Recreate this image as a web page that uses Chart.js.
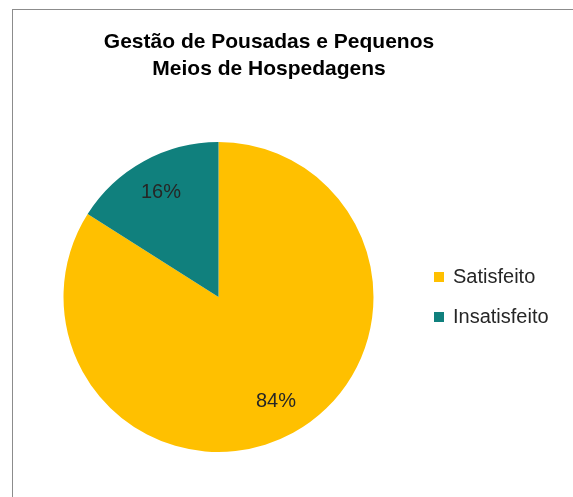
<!DOCTYPE html>
<html lang="pt">
<head>
<meta charset="utf-8">
<title>Gestão de Pousadas e Pequenos Meios de Hospedagens</title>
<script src="https://cdn.jsdelivr.net/npm/chart.js@4"></script>
<style>
  html, body { margin: 0; padding: 0; background: #fff; overflow: hidden; }
  #frame {
    position: absolute; left: 12px; top: 9px; width: 600px; height: 520px;
    border-left: 1px solid #8c8c8c; border-top: 1px solid #8c8c8c;
  }
  #chart-wrap { position: absolute; left: 0; top: 0; width: 573px; height: 497px; }
</style>
</head>
<body>
<div id="frame"></div>
<div id="chart-wrap"><canvas id="pie-chart"></canvas></div>
<script>
const TITLE_LINES = ['Gestão de Pousadas e Pequenos', 'Meios de Hospedagens'];
const CATEGORIES = ['Satisfeito', 'Insatisfeito'];
const VALUES = [84, 16];
const COLORS = ['#ffc000', '#10807d'];

const FONT = '"Liberation Sans", Arial, sans-serif';

// writes the percentage inside each slice
const sliceLabels = {
  id: 'sliceLabels',
  afterDatasetsDraw(chart) {
    const { ctx } = chart;
    const arcs = chart.getDatasetMeta(0).data;
    const total = VALUES.reduce((sum, v) => sum + v, 0);
    ctx.save();
    ctx.font = '20px ' + FONT;
    ctx.fillStyle = '#262626';
    ctx.textAlign = 'center';
    ctx.textBaseline = 'middle';
    arcs.forEach((arc, i) => {
      const { x, y, startAngle, endAngle, outerRadius } = arc.getProps(
        ['x', 'y', 'startAngle', 'endAngle', 'outerRadius'], true);
      const mid = (startAngle + endAngle) / 2;
      const dist = outerRadius * 0.77;
      const pct = Math.round(VALUES[i] / total * 100) + '%';
      ctx.fillText(pct, x + Math.cos(mid) * dist, y + Math.sin(mid) * dist);
    });
    ctx.restore();
  },
};

// the legend box is kept narrow so the title stays centred like the original;
// let its labels run past the box instead of being clipped
const unclippedLegend = {
  id: 'unclippedLegend',
  afterInit(chart) {
    if (chart.legend) {
      chart.legend.draw = function () {
        if (this.options.display) {
          this._draw();
        }
      };
    }
  },
};

new Chart(document.getElementById('pie-chart'), {
  type: 'pie',
  data: {
    labels: CATEGORIES,
    datasets: [{
      data: VALUES,
      backgroundColor: COLORS,
      borderWidth: 0,
      hoverOffset: 0,
    }],
  },
  options: {
    responsive: true,
    maintainAspectRatio: false,
    animation: false,
    layout: { padding: { left: 22, right: 57, top: 0, bottom: 45 } },
    plugins: {
      title: {
        display: true,
        text: TITLE_LINES,
        color: '#000',
        font: { family: FONT, size: 21, weight: 'bold', lineHeight: 27 / 21 },
        padding: { top: 28.5, bottom: 59.5 },
      },
      legend: {
        position: 'right',
        fullSize: false,
        maxWidth: 101,
        labels: {
          color: '#262626',
          font: { family: FONT, size: 20, lineHeight: 1 },
          boxWidth: 8,
          boxHeight: 8,
          padding: 20,
          generateLabels() {
            return CATEGORIES.map((label, i) => ({
              text: label,
              fillStyle: COLORS[i],
              strokeStyle: COLORS[i],
              lineWidth: 2,
              fontColor: '#262626',
              hidden: false,
              index: i,
            }));
          },
        },
      },
      tooltip: { enabled: false },
    },
  },
  plugins: [sliceLabels, unclippedLegend],
});
</script>
</body>
</html>
